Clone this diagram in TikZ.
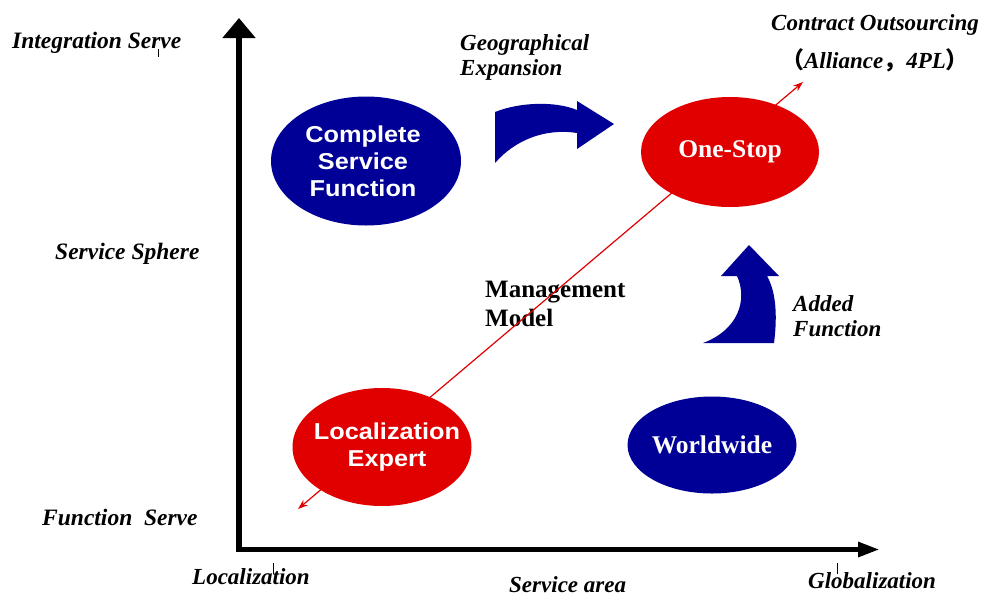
\documentclass[tikz,border=0pt]{standalone}
\usepackage{fontspec}
\setmainfont{Liberation Serif}
\newfontfamily\bubsans[FakeStretch=1.1]{Liberation Sans}
\newfontfamily\cjk{Noto Sans CJK SC}
\usepackage{xcolor}
\usetikzlibrary{positioning, arrows.meta, shapes.geometric}
\definecolor{navy}{RGB}{0,0,150}
\definecolor{bubred}{RGB}{224,0,0}

\begin{document}
\begin{tikzpicture}[x=1pt, y=-1pt,
    axis/.style={line width=5.5pt, {Triangle[length=20pt, width=32pt]}-{Triangle[length=22pt, width=14pt]}},
    mgmt/.style={bubred, line width=1.2pt, {Stealth[length=10pt, width=7pt]}-{Stealth[length=10pt, width=7pt]}},
    sidelbl/.style={font=\fontsize{23.5}{25}\selectfont\bfseries\itshape, inner sep=0pt, anchor=base west},
    lbl/.style={font=\fontsize{23}{25}\selectfont\bfseries\itshape, inner sep=0pt, align=left},
    bub/.style={ellipse, inner sep=0pt},
    sanstext/.style={font=\fontsize{23}{27}\bubsans\bfseries, text=white, align=center, inner sep=0pt},
    seriftext/.style={font=\fontsize{25.5}{27}\selectfont\bfseries, text=white, inner sep=0pt},
    ]
    \useasboundingbox (0,0) rectangle (984,595);

    \coordinate (o) at (239,549.5);
    \coordinate (ytop) at (239,18);
    \coordinate (xend) at (880,549.5);
    \coordinate (lo) at (298,509);
    \coordinate (hi) at (803,82);

    \node[sidelbl] (intserve) at (12,48) {Integration Serve};
    \node[sidelbl] (sphere) at (55,259) {Service Sphere};
    \node[sidelbl] (funserve) at (42,525) {Function\ \ Serve};
    \node[lbl, anchor=base west] (local) at (192,584) {Localization};
    \node[lbl, anchor=base west] (area) at (509,592) {Service area};
    \node[lbl, anchor=base west] (global) at (808,588) {Globalization};
    \node[lbl, anchor=west] (geo) at (460,57) {Geographical\\Expansion};
    \node[lbl, anchor=west] (added) at (793,316.5) {Added\\Function};
    \node[lbl, align=center, font=\fontsize{23}{38}\selectfont\bfseries\itshape] (contract) at (875,43.5)
        {Contract Outsourcing\\{\cjk （}Alliance{\cjk ，}4PL{\cjk ）}};
    \node[font=\fontsize{25}{29}\selectfont\bfseries, align=left, inner sep=0pt, anchor=west] (model) at (485,304)
        {Management\\Model};

    \draw[mgmt] (lo) -- (hi);

    \node[bub, fill=navy, minimum width=190, minimum height=129,
        label={[sanstext, xshift=-3pt]center:Complete\\Service\\Function}] (csf) at (366,161) {};
    \node[bub, fill=bubred, minimum width=178, minimum height=110,
        label={[seriftext]center:One-Stop}] (onestop) at (730,152) {};
    \node[bub, fill=bubred, minimum width=179, minimum height=118,
        label={[sanstext, xshift=5pt]center:Localization\\Expert}] (lexp) at (382,447) {};
    \node[bub, fill=navy, minimum width=169, minimum height=97,
        label={[seriftext]center:Worldwide}] (world) at (712,445) {};

    \fill[navy] (495,112) .. controls (520,102) and (555,101) .. (577,110) -- (577,101) -- (614,124)
        -- (577,149) -- (577,133) .. controls (545,128) and (515,140) .. (495,163) -- cycle;
    \fill[navy] (703,343) -- (774,343) .. controls (778,312) and (775,290) .. (767,276) -- (779,276)
        -- (749,245) -- (721,276) -- (737,276) .. controls (748,300) and (738,330) .. (703,343) -- cycle;

    \draw[axis] (ytop) -- (o) -- (xend);

    \draw (158,49) -- (158,57);
    \draw (273,563) -- (273,574);
    \draw (837,563) -- (837,574);
\end{tikzpicture}
\end{document}
